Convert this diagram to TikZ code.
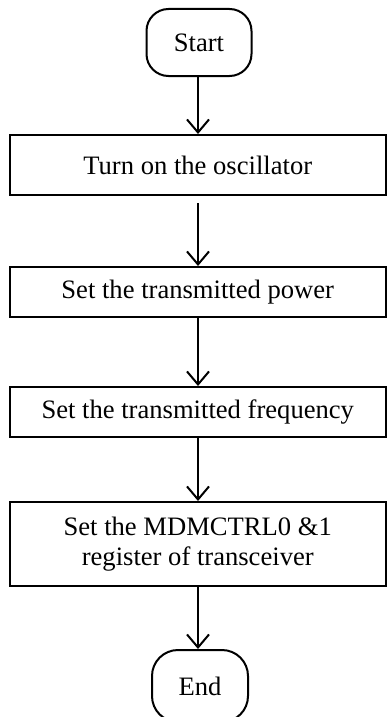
\documentclass[tikz,border=0pt]{standalone}
\usepackage{fontspec}
\setmainfont{Liberation Serif}
\usetikzlibrary{arrows.meta}
\begin{document}
\begin{tikzpicture}[x=1pt,y=-1pt,
  every node/.style={font=\fontsize{26.6}{30}\selectfont},
  term/.style={draw,line width=2pt,rounded corners=22pt,inner sep=0pt,minimum width=105pt,minimum height=67pt},
  proc/.style={draw,line width=2pt,inner sep=0pt,minimum width=375.5pt,align=center},
  arr/.style={line width=2pt,-{Straight Barb[length=13pt,width=22pt]}}]
\useasboundingbox (0,0) rectangle (386,717);
\node[term] (start) at (199,42.5) {Start};
\node[proc,minimum height=60pt] (b1) at (197.75,165) {Turn on the oscillator};
\node[proc,minimum height=50pt] (b2) at (197.75,292) {Set the transmitted power};
\node[proc,minimum height=50pt] (b3) at (197.75,412) {Set the transmitted frequency};
\node[proc,minimum height=84pt] (b4) at (197.75,544) {Set the MDMCTRL0 \&1\\register of transceiver};
\node[term,minimum width=96pt,minimum height=72pt,rounded corners=26pt] (end) at (200,686) {End};
\draw[arr] (start.south -| 198,0) -- (b1.north -| 198,0);
\draw[arr] ([yshift=-7pt]b1.south -| 198,0) -- (b2.north -| 198,0);
\draw[arr] (b2.south -| 198,0) -- (b3.north -| 198,0);
\draw[arr] (b3.south -| 198,0) -- (b4.north -| 198,0);
\draw[arr] (b4.south -| 198,0) -- (end.north -| 198,0);
\end{tikzpicture}
\end{document}
